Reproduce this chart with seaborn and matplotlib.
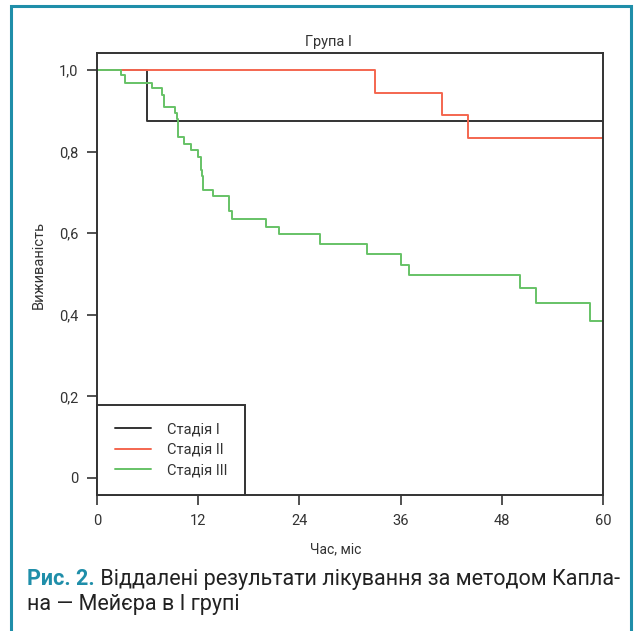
import matplotlib
matplotlib.use("Agg")
import matplotlib.pyplot as plt
from matplotlib.patches import Rectangle
import pandas as pd
import seaborn as sns

# Kaplan-Meier survival, group I
stage1_time = [0, 5.9, 60]
stage1_surv = [1.0, 0.875, 0.875]

stage2_time = [0, 33.0, 40.9, 44.0, 60]
stage2_surv = [1.0, 0.944, 0.889, 0.833, 0.833]

stage3_time = [0, 2.8, 3.3, 6.5, 7.7, 8.0, 9.25, 9.45, 9.65, 10.35, 11.2, 12.0, 12.3,
               12.5, 12.6, 13.8, 15.65, 16.05, 20.05, 21.6, 26.5, 32.0, 36.1, 37.0,
               50.2, 52.0, 58.5, 60]
stage3_surv = [1.0, 0.988, 0.967, 0.955, 0.938, 0.910, 0.894, 0.881, 0.837, 0.818, 0.804,
               0.788, 0.755, 0.741, 0.707, 0.690, 0.654, 0.636, 0.615, 0.597, 0.574,
               0.548, 0.522, 0.497, 0.465, 0.428, 0.385, 0.385]

stage_names = ["Стадія І", "Стадія ІІ", "Стадія ІІІ"]
stage_colors = ["#333333", "#f4664f", "#66c266"]

x_ticks = [0, 12, 24, 36, 48, 60]
y_ticks = [0, 0.2, 0.4, 0.6, 0.8, 1.0]
y_tick_labels = ["0", "0,2", "0,4", "0,6", "0,8", "1,0"]

sns.set_style("ticks")
plt.rcParams["font.family"] = ["Roboto", "DejaVu Sans"]

fig = plt.figure(figsize=(6.34, 6.31), dpi=100)
ax = fig.add_axes([97 / 634, 1 - 495 / 631, 506 / 634, 442 / 631])

curves = [(stage1_time, stage1_surv), (stage2_time, stage2_surv), (stage3_time, stage3_surv)]
for (t, s), name, color in zip(curves, stage_names, stage_colors):
    df = pd.DataFrame({"time": t, "surv": s})
    sns.lineplot(data=df, x="time", y="surv", color=color, lw=1.4,
                 drawstyle="steps-post", ax=ax, legend=False)

ax.set_xlim(0, 60)
ax.set_ylim(-0.0417, 1.0417)
ax.set_xticks(x_ticks)
ax.set_xticklabels([str(v) for v in x_ticks])
ax.set_yticks(y_ticks)
ax.set_yticklabels(y_tick_labels)
ax.tick_params(direction="out", length=7.5, width=1.2, color="#333333",
               labelsize=10.5, labelcolor="#333333", pad=6)

for sp in ax.spines.values():
    sp.set_visible(True)
    sp.set_color("#333333")
    sp.set_linewidth(1.4)

ax.set_xlabel("Час, міс", fontsize=10, color="#333333")
ax.set_ylabel("Виживаність", fontsize=10.5, color="#333333")
ax.xaxis.set_label_coords(0.472, -0.108)
ax.yaxis.set_label_coords(-0.101, 0.52)

ax.text(0.457, 1.01, "Група І", transform=ax.transAxes, ha="center", va="bottom",
        fontsize=10.5, color="#333333")

leg = ax.legend(handles=ax.get_lines(), labels=stage_names, loc="lower left",
                bbox_to_anchor=(0, 0), borderaxespad=0, fancybox=False,
                framealpha=1, edgecolor="#333333", fontsize=10.5,
                borderpad=1.2, handlelength=2.5, handletextpad=1.1, labelspacing=0.45)
leg.get_frame().set_linewidth(1.4)
for txt in leg.get_texts():
    txt.set_color("#333333")

# caption
teal = "#1f8ea9"
t1 = fig.text(27 / 634, 1 - 590 / 631, "Рис. 2.", fontsize=15.5, fontweight="bold",
              color=teal, ha="left", va="bottom")
ax.annotate(" Віддалені результати лікування за методом Капла-", xy=(1, 0), xycoords=t1,
            ha="left", va="bottom", fontsize=15.5, color="#222222")
fig.text(27 / 634, 1 - 615 / 631, "на — Мейєра в І групі", fontsize=15.5,
         color="#222222", ha="left", va="bottom")

# teal frame around the figure
fig.patches.append(Rectangle((10.5 / 634, -0.1), 620.5 / 634, 1.1 - 6 / 631,
                             transform=fig.transFigure, fill=False,
                             edgecolor=teal, linewidth=2.2))

fig.savefig("out.png", dpi=100)
